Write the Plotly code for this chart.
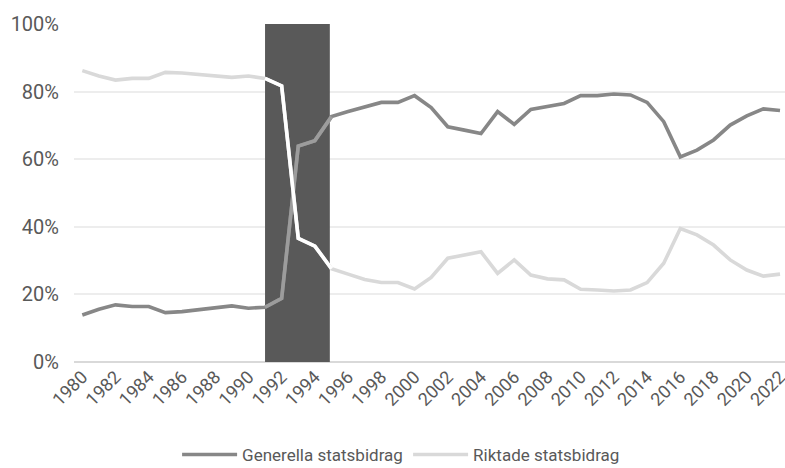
import plotly.graph_objects as go

years = list(range(1980, 2023))
generella = [13.9, 15.6, 16.9, 16.4, 16.4, 14.6, 14.9, 15.4, 16.1, 16.6, 15.9, 16.2,
             18.8, 63.9, 65.5, 72.6, 74.1, 75.5, 76.8, 76.8, 78.8, 75.3, 69.6, 68.6,
             67.6, 74.1, 70.3, 74.7, 75.7, 76.5, 78.8, 78.8, 79.3, 79.0, 76.8, 71.1,
             60.7, 62.7, 65.7, 70.1, 72.8, 74.9, 74.4]
riktade = [86.2, 84.6, 83.4, 83.9, 83.9, 85.7, 85.5, 85.1, 84.6, 84.2, 84.6, 83.9,
           81.7, 36.6, 34.3, 27.6, 26.0, 24.4, 23.5, 23.5, 21.6, 25.0, 30.7, 31.7,
           32.6, 26.2, 30.2, 25.7, 24.6, 24.3, 21.5, 21.3, 21.0, 21.3, 23.5, 29.2,
           39.5, 37.6, 34.6, 30.2, 27.2, 25.4, 26.0]
tick_years = list(range(1980, 2023, 2))
tick_labels = [str(y) for y in tick_years]
y_ticks = [0, 20, 40, 60, 80, 100]
y_labels = ["0%", "20%", "40%", "60%", "80%", "100%"]
crisis_start, crisis_end = 1991, 1995

font = "Roboto, sans-serif"
txt = "#595959"

i0 = years.index(crisis_start)
i1 = years.index(crisis_end) + 1

fig = go.Figure()
fig.add_trace(go.Scatter(x=years, y=generella, mode="lines", name="Generella statsbidrag",
                         line=dict(color="#878787", width=3.6)))
fig.add_trace(go.Scatter(x=years, y=riktade, mode="lines", name="Riktade statsbidrag",
                         line=dict(color="#d9d9d9", width=3.6)))
fig.add_trace(go.Scatter(x=years[i0:i1], y=generella[i0:i1], mode="lines", showlegend=False,
                         line=dict(color="#9c9c9c", width=3.6)))
fig.add_trace(go.Scatter(x=years[i0:i1], y=riktade[i0:i1], mode="lines", showlegend=False,
                         line=dict(color="#ffffff", width=3.6)))

fig.add_shape(type="rect", xref="x", yref="y", x0=crisis_start, x1=crisis_end - 0.1,
              y0=0, y1=100, fillcolor="#595959", line=dict(width=0), layer="between")

fig.update_layout(
    width=785, height=468,
    margin=dict(l=74, r=0, t=24, b=106),
    paper_bgcolor="white", plot_bgcolor="white",
    font=dict(family=font, color=txt, size=18),
    showlegend=True,
    legend=dict(orientation="h", x=0.145, xanchor="left", y=0.028, yref="container",
                yanchor="middle", font=dict(size=17, color=txt), itemwidth=55,
                entrywidth=161, entrywidthmode="pixels", tracegroupgap=0),
    xaxis=dict(range=[1979.5, 2022.3], tickvals=tick_years, ticktext=tick_labels,
               tickangle=-45, showgrid=False, zeroline=False, showline=False,
               ticks="", tickfont=dict(size=18, color=txt), automargin=False,
               ticklabeloverflow="allow"),
    yaxis=dict(range=[0, 100], tickvals=y_ticks, ticktext=y_labels, showgrid=True,
               gridcolor="#ededed", gridwidth=1.5, zeroline=True, zerolinecolor="#d9d9d9",
               zerolinewidth=1.5, ticks="", ticklabelstandoff=14, automargin=False,
               tickfont=dict(size=20, color=txt)),
)

fig.write_html("out.html", config={"displayModeBar": False},
               post_script="document.body.style.margin='0';")
